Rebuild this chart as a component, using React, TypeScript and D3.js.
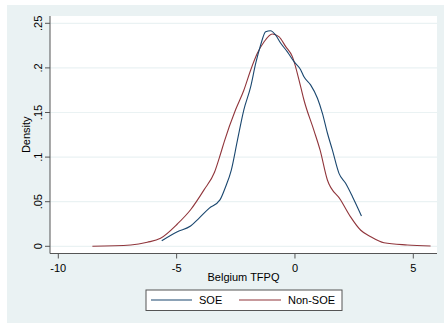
import React from "react";
import * as d3 from "d3";

const soeX = [-5.63, -4.97, -4.41, -4.06, -3.63, -3.17, -2.93, -2.69, -2.43, -2.16, -1.87, -1.66, -1.45, -1.24, -1.03, -0.82, -0.6, -0.32, -0.04, 0.24, 0.38, 0.66, 0.95, 1.16, 1.37, 1.58, 1.86, 2.14, 2.43, 2.81];
const soeY = [0.0063, 0.0164, 0.0228, 0.0314, 0.0426, 0.052, 0.0668, 0.0855, 0.119, 0.153, 0.179, 0.205, 0.2257, 0.2406, 0.2417, 0.2369, 0.2276, 0.218, 0.207, 0.198, 0.19, 0.181, 0.166, 0.149, 0.127, 0.108, 0.0818, 0.0706, 0.0556, 0.034];

const nonX = [-8.56, -6.94, -6.24, -5.68, -4.97, -4.41, -3.85, -3.4, -3.14, -2.98, -2.51, -2.16, -1.87, -1.59, -1.31, -0.96, -0.68, -0.39, -0.11, 0.24, 0.38, 0.8, 1.06, 1.37, 1.93, 2.35, 2.78, 3.2, 3.76, 4.75, 5.73];
const nonY = [0, 0.0015, 0.0045, 0.009, 0.025, 0.041, 0.063, 0.083, 0.104, 0.118, 0.153, 0.175, 0.1977, 0.2163, 0.229, 0.238, 0.235, 0.2238, 0.2126, 0.179, 0.164, 0.13, 0.108, 0.0743, 0.052, 0.033, 0.018, 0.0108, 0.004, 0.0015, 0.0003];

const xTicks = [-10, -5, 0, 5];
const xTickLabels = ["-10", "-5", "0", "5"];
const yTicks = [0, 0.05, 0.1, 0.15, 0.2, 0.25];
const yTickLabels = ["0", ".05", ".1", ".15", ".2", ".25"];
const seriesNames = ["SOE", "Non-SOE"];
const colors = ["#1a476f", "#90353b"];

export default function App() {
  const W = 444, H = 323;
  const plot = { l: 50, r: 437, t: 16, b: 253.5 };
  const x = d3.scaleLinear().domain([-10, 5]).range([58.3, 413.3]);
  const y = d3.scaleLinear().domain([0, 0.25]).range([246.3, 23.3]);
  const line = d3.line<[number, number]>().x(d => x(d[0])).y(d => y(d[1])).curve(d3.curveMonotoneX);
  const soe = soeX.map((v, i) => [v, soeY[i]] as [number, number]);
  const non = nonX.map((v, i) => [v, nonY[i]] as [number, number]);
  const font = "Liberation Sans, Arial, sans-serif";
  const axisColor = "#555";
  return (
    <div style={{ position: "absolute", left: 0, top: 0 }}>
      <svg width={W} height={H} style={{ display: "block" }} fontFamily={font}>
        <rect x={0} y={0} width={W} height={H} fill="#fff" />
        <rect x={7} y={5} width={W - 7} height={H - 5} fill="#eaf2f3" />
        <rect x={plot.l} y={plot.t} width={plot.r - plot.l} height={plot.b - plot.t} fill="#fff" />
        {yTicks.map((t, i) => (
          <line key={"g" + i} x1={plot.l} x2={plot.r} y1={y(t)} y2={y(t)} stroke="#eaf2f3" strokeWidth={1.2} />
        ))}
        <path d={line(non) || ""} fill="none" stroke={colors[1]} strokeWidth={1.1} />
        <path d={line(soe) || ""} fill="none" stroke={colors[0]} strokeWidth={1.1} />
        <line x1={plot.l} x2={plot.l} y1={plot.t} y2={plot.b} stroke={axisColor} strokeWidth={1} />
        <line x1={plot.l} x2={plot.r} y1={plot.b} y2={plot.b} stroke={axisColor} strokeWidth={1} />
        {yTicks.map((t, i) => (
          <g key={"y" + i}>
            <line x1={plot.l - 5} x2={plot.l} y1={y(t)} y2={y(t)} stroke={axisColor} />
            <text transform={`translate(42,${y(t)}) rotate(-90)`} textAnchor="middle" fontSize={11} fill="#000">{yTickLabels[i]}</text>
          </g>
        ))}
        {xTicks.map((t, i) => (
          <g key={"x" + i}>
            <line x1={x(t)} x2={x(t)} y1={plot.b} y2={plot.b + 5} stroke={axisColor} />
            <text x={x(t)} y={272} textAnchor="middle" fontSize={11} fill="#000">{xTickLabels[i]}</text>
          </g>
        ))}
        <text transform={`translate(30,${(plot.t + plot.b) / 2}) rotate(-90)`} textAnchor="middle" fontSize={11} fill="#000">Density</text>
        <text x={(plot.l + plot.r) / 2} y={281} textAnchor="middle" fontSize={11} fill="#000">Belgium TFPQ</text>
        <rect x={146} y={290} width={196} height={20.5} fill="#fff" stroke="#555" strokeWidth={1} />
        <line x1={151} x2={192} y1={300} y2={300} stroke={colors[0]} strokeWidth={1.1} />
        <text x={199} y={304} fontSize={11} fill="#000">{seriesNames[0]}</text>
        <line x1={239} x2={281} y1={300} y2={300} stroke={colors[1]} strokeWidth={1.1} />
        <text x={288} y={304} fontSize={11} fill="#000">{seriesNames[1]}</text>
      </svg>
    </div>
  );
}
